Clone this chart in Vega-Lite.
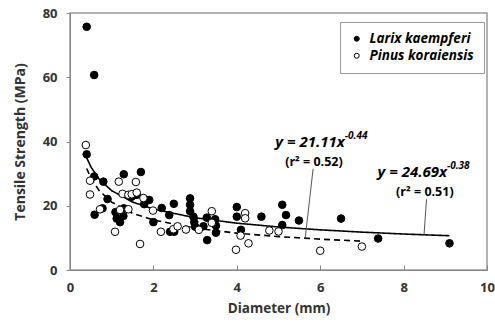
{
  "$schema": "https://vega.github.io/schema/vega-lite/v6.json",
  "autosize": "none",
  "padding": {"left": 70, "top": 13, "right": 8, "bottom": 53},
  "width": 417,
  "height": 257,
  "config": {
    "font": "Open Sans",
    "view": {"stroke": "#9a9a9a", "strokeWidth": 1.5},
    "axis": {"grid": false, "labelFlush": false, "domainColor": "#888", "tickColor": "#888", "labelColor": "#333", "labelFontWeight": "bold", "labelFontSize": 13, "titleColor": "#333", "titleFontWeight": "bold", "titleFontSize": 14}
  },
  "datasets": {
    "pts": [
      {"d": 0.40, "s": 75.7, "sp": "Larix kaempferi"},
      {"d": 0.58, "s": 60.7, "sp": "Larix kaempferi"},
      {"d": 0.40, "s": 36.0, "sp": "Larix kaempferi"},
      {"d": 0.58, "s": 29.1, "sp": "Larix kaempferi"},
      {"d": 0.80, "s": 27.5, "sp": "Larix kaempferi"},
      {"d": 1.29, "s": 29.8, "sp": "Larix kaempferi"},
      {"d": 1.70, "s": 30.5, "sp": "Larix kaempferi"},
      {"d": 0.90, "s": 22.1, "sp": "Larix kaempferi"},
      {"d": 0.59, "s": 17.2, "sp": "Larix kaempferi"},
      {"d": 0.78, "s": 19.2, "sp": "Larix kaempferi"},
      {"d": 1.09, "s": 18.0, "sp": "Larix kaempferi"},
      {"d": 1.12, "s": 16.0, "sp": "Larix kaempferi"},
      {"d": 1.20, "s": 14.9, "sp": "Larix kaempferi"},
      {"d": 1.29, "s": 19.2, "sp": "Larix kaempferi"},
      {"d": 1.28, "s": 16.8, "sp": "Larix kaempferi"},
      {"d": 1.48, "s": 22.8, "sp": "Larix kaempferi"},
      {"d": 1.60, "s": 23.4, "sp": "Larix kaempferi"},
      {"d": 1.80, "s": 21.8, "sp": "Larix kaempferi"},
      {"d": 1.90, "s": 21.8, "sp": "Larix kaempferi"},
      {"d": 1.78, "s": 20.5, "sp": "Larix kaempferi"},
      {"d": 2.00, "s": 14.9, "sp": "Larix kaempferi"},
      {"d": 2.20, "s": 19.3, "sp": "Larix kaempferi"},
      {"d": 2.38, "s": 17.1, "sp": "Larix kaempferi"},
      {"d": 2.49, "s": 20.6, "sp": "Larix kaempferi"},
      {"d": 2.40, "s": 11.9, "sp": "Larix kaempferi"},
      {"d": 2.50, "s": 11.9, "sp": "Larix kaempferi"},
      {"d": 2.88, "s": 22.3, "sp": "Larix kaempferi"},
      {"d": 2.88, "s": 20.3, "sp": "Larix kaempferi"},
      {"d": 2.88, "s": 18.3, "sp": "Larix kaempferi"},
      {"d": 2.96, "s": 16.6, "sp": "Larix kaempferi"},
      {"d": 2.98, "s": 14.9, "sp": "Larix kaempferi"},
      {"d": 3.00, "s": 13.5, "sp": "Larix kaempferi"},
      {"d": 3.20, "s": 13.6, "sp": "Larix kaempferi"},
      {"d": 3.28, "s": 16.3, "sp": "Larix kaempferi"},
      {"d": 3.29, "s": 9.3, "sp": "Larix kaempferi"},
      {"d": 3.48, "s": 15.8, "sp": "Larix kaempferi"},
      {"d": 3.50, "s": 13.8, "sp": "Larix kaempferi"},
      {"d": 3.50, "s": 11.6, "sp": "Larix kaempferi"},
      {"d": 4.00, "s": 19.6, "sp": "Larix kaempferi"},
      {"d": 4.00, "s": 16.6, "sp": "Larix kaempferi"},
      {"d": 4.10, "s": 12.5, "sp": "Larix kaempferi"},
      {"d": 4.59, "s": 16.6, "sp": "Larix kaempferi"},
      {"d": 5.09, "s": 20.3, "sp": "Larix kaempferi"},
      {"d": 5.18, "s": 17.1, "sp": "Larix kaempferi"},
      {"d": 5.09, "s": 14.0, "sp": "Larix kaempferi"},
      {"d": 5.49, "s": 15.4, "sp": "Larix kaempferi"},
      {"d": 6.50, "s": 16.0, "sp": "Larix kaempferi"},
      {"d": 7.39, "s": 9.8, "sp": "Larix kaempferi"},
      {"d": 9.10, "s": 8.3, "sp": "Larix kaempferi"},
      {"d": 0.38, "s": 38.9, "sp": "Pinus koraiensis"},
      {"d": 0.48, "s": 27.8, "sp": "Pinus koraiensis"},
      {"d": 0.48, "s": 23.5, "sp": "Pinus koraiensis"},
      {"d": 0.72, "s": 18.9, "sp": "Pinus koraiensis"},
      {"d": 1.17, "s": 27.5, "sp": "Pinus koraiensis"},
      {"d": 1.58, "s": 27.4, "sp": "Pinus koraiensis"},
      {"d": 1.26, "s": 23.7, "sp": "Pinus koraiensis"},
      {"d": 1.40, "s": 23.4, "sp": "Pinus koraiensis"},
      {"d": 1.48, "s": 23.6, "sp": "Pinus koraiensis"},
      {"d": 1.60, "s": 24.1, "sp": "Pinus koraiensis"},
      {"d": 1.76, "s": 22.4, "sp": "Pinus koraiensis"},
      {"d": 1.40, "s": 18.9, "sp": "Pinus koraiensis"},
      {"d": 1.20, "s": 18.7, "sp": "Pinus koraiensis"},
      {"d": 1.08, "s": 11.9, "sp": "Pinus koraiensis"},
      {"d": 1.68, "s": 8.1, "sp": "Pinus koraiensis"},
      {"d": 1.99, "s": 18.5, "sp": "Pinus koraiensis"},
      {"d": 2.18, "s": 11.9, "sp": "Pinus koraiensis"},
      {"d": 2.48, "s": 12.7, "sp": "Pinus koraiensis"},
      {"d": 2.58, "s": 13.6, "sp": "Pinus koraiensis"},
      {"d": 2.78, "s": 12.6, "sp": "Pinus koraiensis"},
      {"d": 3.09, "s": 12.5, "sp": "Pinus koraiensis"},
      {"d": 3.40, "s": 18.3, "sp": "Pinus koraiensis"},
      {"d": 3.40, "s": 14.7, "sp": "Pinus koraiensis"},
      {"d": 4.20, "s": 17.7, "sp": "Pinus koraiensis"},
      {"d": 4.20, "s": 16.1, "sp": "Pinus koraiensis"},
      {"d": 4.09, "s": 10.7, "sp": "Pinus koraiensis"},
      {"d": 3.98, "s": 6.3, "sp": "Pinus koraiensis"},
      {"d": 4.28, "s": 8.3, "sp": "Pinus koraiensis"},
      {"d": 4.78, "s": 12.3, "sp": "Pinus koraiensis"},
      {"d": 5.00, "s": 12.0, "sp": "Pinus koraiensis"},
      {"d": 6.00, "s": 6.0, "sp": "Pinus koraiensis"},
      {"d": 7.00, "s": 7.3, "sp": "Pinus koraiensis"}
    ],
    "curves": [
      {"d": 0.4, "s": 34.97, "c": "Larix"},
      {"d": 0.5, "s": 32.13, "c": "Larix"},
      {"d": 0.7, "s": 28.27, "c": "Larix"},
      {"d": 1.0, "s": 24.69, "c": "Larix"},
      {"d": 1.5, "s": 21.16, "c": "Larix"},
      {"d": 2.0, "s": 18.97, "c": "Larix"},
      {"d": 3.0, "s": 16.26, "c": "Larix"},
      {"d": 4.0, "s": 14.58, "c": "Larix"},
      {"d": 5.0, "s": 13.39, "c": "Larix"},
      {"d": 6.0, "s": 12.50, "c": "Larix"},
      {"d": 7.0, "s": 11.79, "c": "Larix"},
      {"d": 8.0, "s": 11.20, "c": "Larix"},
      {"d": 9.1, "s": 10.67, "c": "Larix"},
      {"d": 0.4, "s": 31.59, "c": "Pinus"},
      {"d": 0.5, "s": 28.64, "c": "Pinus"},
      {"d": 0.7, "s": 24.70, "c": "Pinus"},
      {"d": 1.0, "s": 21.11, "c": "Pinus"},
      {"d": 1.5, "s": 17.66, "c": "Pinus"},
      {"d": 2.0, "s": 15.56, "c": "Pinus"},
      {"d": 3.0, "s": 13.02, "c": "Pinus"},
      {"d": 4.0, "s": 11.47, "c": "Pinus"},
      {"d": 5.0, "s": 10.40, "c": "Pinus"},
      {"d": 6.0, "s": 9.60, "c": "Pinus"},
      {"d": 7.0, "s": 8.97, "c": "Pinus"}
    ],
    "leaders": [
      {"x1": 5.83, "y1": 31.5, "x2": 5.64, "y2": 9.9},
      {"x1": 8.55, "y1": 22.0, "x2": 8.49, "y2": 11.0}
    ],
    "eqs": [
      {"x": 6.59, "y": 39.9, "t": "y = 21.11x"},
      {"x": 9.04, "y": 30.6, "t": "y = 24.69x"}
    ],
    "sups": [
      {"x": 6.59, "y": 41.6, "t": "-0.44"},
      {"x": 9.04, "y": 32.3, "t": "-0.38"}
    ],
    "r2": [
      {"x": 5.16, "y": 33.7, "t": "(r² = 0.52)"},
      {"x": 7.82, "y": 24.2, "t": "(r² = 0.51)"}
    ]
  },
  "encoding": {
    "x": {"type": "quantitative", "scale": {"domain": [0, 10]}},
    "y": {"type": "quantitative", "scale": {"domain": [0, 80]}}
  },
  "layer": [
    {
      "data": {"name": "curves"},
      "mark": {"type": "line", "color": "black", "strokeWidth": 1.6},
      "encoding": {
        "x": {"field": "d", "type": "quantitative", "scale": {"domain": [0, 10]}, "axis": {"values": [0, 2, 4, 6, 8, 10], "tickSize": -5, "labelPadding": 16, "title": "Diameter (mm)", "titlePadding": 7, "titleFontSize": 13.5}},
        "y": {"field": "s", "type": "quantitative", "scale": {"domain": [0, 80]}, "axis": {"values": [0, 20, 40, 60, 80], "tickSize": 4, "labelPadding": 9, "title": "Tensile Strength (MPa)", "titlePadding": 15}},
        "detail": {"field": "c"},
        "strokeDash": {"field": "c", "type": "nominal", "scale": {"domain": ["Larix", "Pinus"], "range": [[1, 0], [6, 4]]}, "legend": null}
      }
    },
    {
      "data": {"name": "pts"},
      "mark": {"type": "point", "filled": true, "shape": "circle", "stroke": "black", "strokeWidth": 1, "size": 58, "opacity": 1},
      "encoding": {
        "x": {"field": "d", "type": "quantitative"},
        "y": {"field": "s", "type": "quantitative"},
        "fill": {"field": "sp", "type": "nominal", "scale": {"domain": ["Larix kaempferi", "Pinus koraiensis"], "range": ["black", "white"]},
          "legend": {"title": null, "orient": "none", "legendX": 270, "legendY": 9, "padding": 10, "strokeColor": "#999", "fillColor": "white", "labelFontSize": 13.5, "labelFontWeight": "bold", "labelFontStyle": "italic", "labelColor": "black", "symbolSize": 25, "symbolStrokeColor": "black", "symbolStrokeWidth": 1, "symbolType": "circle", "rowPadding": 2, "labelOffset": 6}}
      }
    },
    {
      "data": {"name": "leaders"},
      "mark": {"type": "rule", "color": "#555", "strokeWidth": 1},
      "encoding": {
        "x": {"field": "x1", "type": "quantitative"},
        "y": {"field": "y1", "type": "quantitative"},
        "x2": {"field": "x2"},
        "y2": {"field": "y2"}
      }
    },
    {
      "data": {"name": "eqs"},
      "mark": {"type": "text", "align": "right", "baseline": "middle", "fontSize": 15, "fontWeight": "bold", "fontStyle": "italic", "color": "black"},
      "encoding": {
        "x": {"field": "x", "type": "quantitative"},
        "y": {"field": "y", "type": "quantitative"},
        "text": {"field": "t"}
      }
    },
    {
      "data": {"name": "sups"},
      "mark": {"type": "text", "align": "left", "baseline": "middle", "fontSize": 10, "fontWeight": "bold", "fontStyle": "italic", "color": "black"},
      "encoding": {
        "x": {"field": "x", "type": "quantitative"},
        "y": {"field": "y", "type": "quantitative"},
        "text": {"field": "t"}
      }
    },
    {
      "data": {"name": "r2"},
      "mark": {"type": "text", "align": "left", "baseline": "middle", "fontSize": 12.5, "fontWeight": "bold", "color": "black"},
      "encoding": {
        "x": {"field": "x", "type": "quantitative"},
        "y": {"field": "y", "type": "quantitative"},
        "text": {"field": "t"}
      }
    }
  ]
}
